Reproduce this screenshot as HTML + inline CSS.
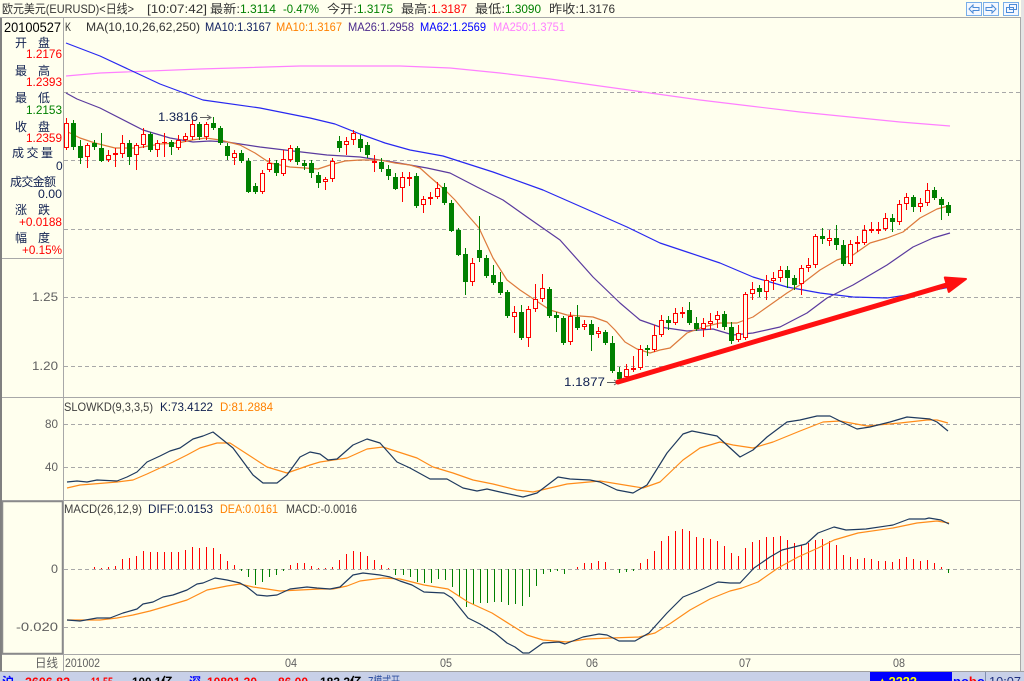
<!DOCTYPE html>
<html><head><meta charset="utf-8"><style>
html,body{margin:0;padding:0;background:#FFFFEE;}
svg{display:block;}
text{font-family:"Liberation Sans","WenQuanYi Zen Hei","Noto Sans CJK SC",sans-serif;font-size:12px;}
</style></head><body>
<svg width="1024" height="681" viewBox="0 0 1024 681" xmlns="http://www.w3.org/2000/svg">
<rect x="0" y="0" width="1024" height="681" fill="#FFFFEE"/>
<rect x="1021" y="0" width="3" height="672" fill="#E4E4E4"/>

<!-- title -->
<g fill="#333">
<text x="2" y="13" textLength="132" lengthAdjust="spacingAndGlyphs">欧元美元(EURUSD)&lt;日线&gt;</text>
<text x="147" y="13" textLength="60" lengthAdjust="spacingAndGlyphs">[10:07:42]</text>
<text x="210" y="13" textLength="30" lengthAdjust="spacingAndGlyphs">最新:</text>
<text x="327" y="13" textLength="30" lengthAdjust="spacingAndGlyphs">今开:</text>
<text x="401" y="13" textLength="30" lengthAdjust="spacingAndGlyphs">最高:</text>
<text x="475" y="13" textLength="30" lengthAdjust="spacingAndGlyphs">最低:</text>
<text x="549" y="13" textLength="30" lengthAdjust="spacingAndGlyphs">昨收:</text>
<text x="579" y="13" textLength="36" lengthAdjust="spacingAndGlyphs">1.3176</text>
</g>
<g fill="#008000">
<text x="240" y="13" textLength="36" lengthAdjust="spacingAndGlyphs">1.3114</text>
<text x="283" y="13" textLength="36" lengthAdjust="spacingAndGlyphs">-0.47%</text>
<text x="357" y="13" textLength="36" lengthAdjust="spacingAndGlyphs">1.3175</text>
<text x="505" y="13" textLength="36" lengthAdjust="spacingAndGlyphs">1.3090</text>
</g>
<text x="431" y="13" fill="#FF0000" textLength="36" lengthAdjust="spacingAndGlyphs">1.3187</text>

<!-- top-right buttons -->
<g fill="#F4F8FF" stroke="#78AEE8" stroke-width="1">
<rect x="966.5" y="2.5" width="15" height="13"/>
<rect x="983.5" y="2.5" width="15" height="13"/>
<rect x="1003.5" y="2.5" width="15" height="13"/>
</g>
<g fill="none" stroke="#4A8AD6" stroke-width="1">
<polygon points="969,9 973,5 973,7.5 979,7.5 979,10.5 973,10.5 973,13"/>
<polygon points="996,9 992,5 992,7.5 986,7.5 986,10.5 992,10.5 992,13"/>
<rect x="1006.5" y="7.5" width="7" height="5"/>
<rect x="1009.5" y="4.5" width="7" height="5"/>
</g>

<!-- frame lines -->
<g stroke="#A8A8A8" stroke-width="1" shape-rendering="crispEdges">
<line x1="0" y1="17.5" x2="1021" y2="17.5"/>
<line x1="0" y1="397.5" x2="1021" y2="397.5"/>
<line x1="0" y1="500.5" x2="1021" y2="500.5"/>
<line x1="0" y1="654.5" x2="1021" y2="654.5"/>
<line x1="63.5" y1="18" x2="63.5" y2="671"/>
<line x1="1020.5" y1="18" x2="1020.5" y2="671"/>
<line x1="0" y1="258.5" x2="63" y2="258.5"/>
</g>
<line x1="1" y1="18" x2="1" y2="672" stroke="#808080" stroke-width="2"/>
<rect x="2.5" y="501.5" width="60" height="152" fill="none" stroke="#8A8A8A" stroke-width="1.5"/>

<!-- grid -->
<g stroke="#A8A8A8" stroke-width="1" stroke-dasharray="4,3" shape-rendering="crispEdges">
<line x1="64" y1="92.5" x2="1020" y2="92.5"/>
<line x1="64" y1="160.5" x2="1020" y2="160.5"/>
<line x1="64" y1="229.5" x2="1020" y2="229.5"/>
<line x1="64" y1="297.5" x2="1020" y2="297.5"/>
<line x1="64" y1="366.5" x2="1020" y2="366.5"/>
<line x1="64" y1="424.5" x2="1020" y2="424.5"/>
<line x1="64" y1="467.5" x2="1020" y2="467.5"/>
<line x1="64" y1="569.5" x2="1020" y2="569.5"/>
<line x1="64" y1="627.5" x2="1020" y2="627.5"/>
</g>

<!-- left info panel -->
<text x="4" y="32" fill="#000" style="font-size:14px" textLength="57" lengthAdjust="spacingAndGlyphs">20100527</text>
<g fill="#102050">
<text x="15" y="47">开</text><text x="38" y="47">盘</text>
<text x="15" y="75">最</text><text x="38" y="75">高</text>
<text x="15" y="102">最</text><text x="38" y="102">低</text>
<text x="15" y="131">收</text><text x="38" y="131">盘</text>
<text x="12" y="157" textLength="41" lengthAdjust="spacing">成交量</text>
<text x="56" y="170">0</text>
<text x="10" y="186" textLength="46" lengthAdjust="spacing">成交金额</text>
<text x="38" y="198" textLength="24" lengthAdjust="spacingAndGlyphs">0.00</text>
<text x="15" y="214">涨</text><text x="38" y="214">跌</text>
<text x="15" y="242">幅</text><text x="38" y="242">度</text>
</g>
<g fill="#FF0000">
<text x="26" y="58" textLength="36" lengthAdjust="spacingAndGlyphs">1.2176</text>
<text x="26" y="86" textLength="36" lengthAdjust="spacingAndGlyphs">1.2393</text>
<text x="26" y="142" textLength="36" lengthAdjust="spacingAndGlyphs">1.2359</text>
<text x="19" y="226" textLength="43" lengthAdjust="spacingAndGlyphs">+0.0188</text>
<text x="22" y="254" textLength="40" lengthAdjust="spacingAndGlyphs">+0.15%</text>
</g>
<text x="26" y="114" fill="#008000" textLength="36" lengthAdjust="spacingAndGlyphs">1.2153</text>

<!-- axis labels -->
<g fill="#606060">
<text x="32" y="301" textLength="26" lengthAdjust="spacingAndGlyphs">1.25</text>
<text x="32" y="370" textLength="26" lengthAdjust="spacingAndGlyphs">1.20</text>
<text x="45" y="428" textLength="13" lengthAdjust="spacingAndGlyphs">80</text>
<text x="45" y="471" textLength="13" lengthAdjust="spacingAndGlyphs">40</text>
<text x="51" y="573" textLength="7" lengthAdjust="spacingAndGlyphs">0</text>
<text x="16" y="631" textLength="42" lengthAdjust="spacingAndGlyphs">-0.020</text>
<text x="35" y="667" textLength="23" lengthAdjust="spacingAndGlyphs">日线</text>
<text x="65" y="667" textLength="35" lengthAdjust="spacingAndGlyphs">201002</text>
<text x="285" y="667" textLength="12" lengthAdjust="spacingAndGlyphs">04</text>
<text x="440" y="667" textLength="12" lengthAdjust="spacingAndGlyphs">05</text>
<text x="586" y="667" textLength="12" lengthAdjust="spacingAndGlyphs">06</text>
<text x="739" y="667" textLength="12" lengthAdjust="spacingAndGlyphs">07</text>
<text x="893" y="667" textLength="12" lengthAdjust="spacingAndGlyphs">08</text>
</g>

<!-- main header -->
<text x="65" y="31" fill="#333" textLength="6" lengthAdjust="spacingAndGlyphs">K</text>
<text x="86" y="31" fill="#333" textLength="114" lengthAdjust="spacingAndGlyphs">MA(10,10,26,62,250)</text>
<text x="205" y="31" fill="#102060" textLength="66" lengthAdjust="spacingAndGlyphs">MA10:1.3167</text>
<text x="276" y="31" fill="#FF8000" textLength="66" lengthAdjust="spacingAndGlyphs">MA10:1.3167</text>
<text x="348" y="31" fill="#4B2A8C" textLength="66" lengthAdjust="spacingAndGlyphs">MA26:1.2958</text>
<text x="420" y="31" fill="#0000FF" textLength="66" lengthAdjust="spacingAndGlyphs">MA62:1.2569</text>
<text x="493" y="31" fill="#FF80FF" textLength="72" lengthAdjust="spacingAndGlyphs">MA250:1.3751</text>

<!-- KD header -->
<text x="64" y="411" fill="#404040" textLength="89" lengthAdjust="spacingAndGlyphs">SLOWKD(9,3,3,5)</text>
<text x="160" y="411" fill="#102050" textLength="53" lengthAdjust="spacingAndGlyphs">K:73.4122</text>
<text x="220" y="411" fill="#FF8000" textLength="53" lengthAdjust="spacingAndGlyphs">D:81.2884</text>

<!-- MACD header -->
<text x="64" y="513" fill="#404040" textLength="78" lengthAdjust="spacingAndGlyphs">MACD(26,12,9)</text>
<text x="148" y="513" fill="#102050" textLength="65" lengthAdjust="spacingAndGlyphs">DIFF:0.0153</text>
<text x="220" y="513" fill="#FF8000" textLength="58" lengthAdjust="spacingAndGlyphs">DEA:0.0161</text>
<text x="286" y="513" fill="#404040" textLength="71" lengthAdjust="spacingAndGlyphs">MACD:-0.0016</text>

<!-- moving averages -->
<g fill="none" stroke-width="1.2" stroke-linejoin="round">
<polyline stroke="#FF80FF" points="66,76 100,73 200,69 300,66 400,66 450,68 500,73 550,79 600,86 650,93 700,100 750,106 800,112 850,117 900,122 950,126"/>
<polyline stroke="#2828F0" points="66,43 100,56 130,70 160,84 203,100 260,108 310,118 335,124 360,134 385,143 410,150 443,156 493,172 543,190 593,212 627,227 660,243 687,252 720,263 753,277 787,287 820,293 853,297 887,298 920,293 950,287"/>
<polyline stroke="#5A3A9E" points="66,93 77,99 100,108 143,130 170,138 193,142 210,141 227,142 260,147 293,151 327,155 360,157 393,162 427,168 450,173 477,187 503,200 527,217 560,240 593,277 620,303 640,320 660,327 687,331 713,329 733,335 753,333 780,327 807,313 827,298 853,285 887,265 913,247 933,238 950,233"/>
<polyline stroke="#DD7A3C" points="66,131 80,138 95,143 115,148 137,148 160,144 178,143 192,140 206,138 220,140 240,145 255,153 270,163 290,167 305,168 318,169 330,165 345,161 360,160 380,160 395,163 410,165 420,168 430,177 445,190 455,200 465,212 479,228 493,258 507,280 520,290 535,300 550,310 567,315 593,317 607,322 615,330 625,342 637,349 650,353 660,350 670,348 687,333 703,327 720,323 737,323 753,317 770,305 787,293 803,283 820,270 837,260 853,255 870,243 887,238 903,232 920,218 937,209 948,206"/>
</g>

<!-- candles -->
<g shape-rendering="crispEdges">
<path stroke="#FF0000" stroke-width="1" fill="none" d="M66.5 118V150M87.5 143V168M108.5 150V162M115.5 148V167M122.5 135V158M136.5 143V170M143.5 128V148M157.5 140V157M164.5 133V157M178.5 135V150M185.5 133V142M192.5 120V140M206.5 122V140M234.5 150V165M262.5 170V194M269.5 158V172M283.5 150V176M290.5 145V162M325.5 177V190M332.5 158V182M346.5 137V155M353.5 130V145M374.5 155V172M402.5 172V202M409.5 172V186M423.5 196V213M430.5 192V205M437.5 182V199M472.5 258V286M514.5 306V333M528.5 306V347M535.5 284V312M542.5 274V302M570.5 312V345M584.5 320V330M598.5 327V338M626.5 364V380M633.5 356V372M640.5 345V370M654.5 325V352M661.5 315V337M675.5 308V325M682.5 307V318M703.5 318V337M710.5 313V330M717.5 311V328M738.5 325V342M745.5 292V340M752.5 282V300M766.5 275V300M773.5 272V290M780.5 266V282M801.5 265V295M808.5 258V272M815.5 234V268M829.5 230V246M850.5 240V266M857.5 236V252M864.5 225V245M871.5 222V233M878.5 222V234M885.5 213V231M899.5 200V225M906.5 193V210M920.5 198V212M927.5 183V206"/>
<path stroke="#FF0000" stroke-width="1" fill="#FFFFEE" d="M64.5 123.5h4v24h-4zM85.5 145.5h4v11h-4zM106.5 155.5h4v4h-4zM120.5 143.5h4v10h-4zM134.5 145.5h4v9h-4zM141.5 134.5h4v10h-4zM155.5 143.5h4v6h-4zM176.5 140.5h4v7h-4zM183.5 136.5h4v3h-4zM190.5 124.5h4v12h-4zM204.5 124.5h4v12h-4zM232.5 153.5h4v4h-4zM260.5 173.5h4v18h-4zM267.5 163.5h4v6h-4zM281.5 159.5h4v14h-4zM288.5 148.5h4v11h-4zM323.5 179.5h4v2h-4zM330.5 161.5h4v17h-4zM344.5 141.5h4v3h-4zM351.5 133.5h4v6h-4zM400.5 177.5h4v10h-4zM421.5 199.5h4v5h-4zM435.5 188.5h4v8h-4zM470.5 263.5h4v18h-4zM512.5 312.5h4v4h-4zM526.5 309.5h4v28h-4zM533.5 299.5h4v9h-4zM540.5 288.5h4v10h-4zM568.5 316.5h4v25h-4zM582.5 324.5h4v2h-4zM596.5 331.5h4v2h-4zM624.5 369.5h4v7h-4zM638.5 349.5h4v18h-4zM652.5 335.5h4v14h-4zM659.5 320.5h4v14h-4zM673.5 313.5h4v9h-4zM701.5 323.5h4v5h-4zM708.5 321.5h4v2h-4zM715.5 315.5h4v4h-4zM736.5 333.5h4v6h-4zM743.5 294.5h4v43h-4zM750.5 289.5h4v4h-4zM764.5 280.5h4v11h-4zM771.5 278.5h4v2h-4zM778.5 270.5h4v7h-4zM799.5 268.5h4v15h-4zM806.5 265.5h4v2h-4zM813.5 236.5h4v28h-4zM827.5 238.5h4v2h-4zM848.5 244.5h4v19h-4zM862.5 230.5h4v12h-4zM883.5 218.5h4v10h-4zM897.5 204.5h4v17h-4zM904.5 197.5h4v6h-4zM918.5 203.5h4v3h-4zM925.5 190.5h4v12h-4z"/>
<path fill="#FF0000" d="M113 153h5v2h-5zM162 142h5v1h-5zM372 161h5v2h-5zM407 177h5v2h-5zM428 197h5v2h-5zM631 368h5v2h-5zM680 312h5v2h-5zM855 242h5v2h-5zM869 229h5v2h-5zM876 229h5v2h-5z"/>
<path stroke="#008000" stroke-width="1" fill="none" d="M73.5 120V150M80.5 140V164M94.5 140V150M101.5 133V162M129.5 140V165M150.5 132V152M171.5 140V155M199.5 122V140M213.5 117V130M220.5 126V145M227.5 143V160M241.5 150V163M248.5 158V193M255.5 183V194M276.5 160V176M297.5 146V165M304.5 160V170M311.5 160V178M318.5 172V188M339.5 136V152M360.5 135V152M367.5 142V158M381.5 158V172M388.5 165V180M395.5 173V190M416.5 173V208M444.5 183V205M451.5 200V232M458.5 228V256M465.5 248V295M479.5 216V262M486.5 255V278M493.5 265V285M500.5 272V295M507.5 290V318M521.5 305V340M549.5 287V318M556.5 312V332M563.5 316V345M577.5 305V330M591.5 320V351M605.5 330V345M612.5 336V373M619.5 367V383M647.5 345V356M668.5 316V330M689.5 302V325M696.5 317V331M724.5 311V330M731.5 322V344M759.5 285V297M787.5 266V288M794.5 275V290M822.5 228V244M836.5 225V250M843.5 240V266M892.5 214V232M913.5 195V212M934.5 187V200M941.5 197V220M948.5 202V216"/>
<path fill="#008000" d="M71 123h5v24h-5zM78 146h5v12h-5zM92 143h5v4h-5zM99 148h5v13h-5zM127 143h5v14h-5zM148 134h5v16h-5zM169 142h5v5h-5zM197 124h5v13h-5zM211 123h5v5h-5zM218 128h5v15h-5zM225 146h5v10h-5zM239 153h5v8h-5zM246 161h5v31h-5zM253 186h5v6h-5zM274 163h5v10h-5zM295 148h5v14h-5zM302 163h5v3h-5zM309 163h5v10h-5zM316 175h5v8h-5zM337 141h5v7h-5zM358 139h5v9h-5zM365 145h5v10h-5zM379 162h5v7h-5zM386 169h5v7h-5zM393 177h5v12h-5zM414 176h5v30h-5zM442 187h5v16h-5zM449 203h5v28h-5zM456 230h5v25h-5zM463 254h5v28h-5zM477 250h5v8h-5zM484 258h5v18h-5zM491 275h5v8h-5zM498 282h5v11h-5zM505 292h5v24h-5zM519 312h5v26h-5zM547 289h5v27h-5zM554 315h5v3h-5zM561 318h5v25h-5zM575 317h5v11h-5zM589 324h5v11h-5zM603 332h5v11h-5zM610 343h5v28h-5zM617 372h5v7h-5zM645 348h5v2h-5zM666 320h5v3h-5zM687 310h5v13h-5zM694 323h5v6h-5zM722 314h5v13h-5zM729 327h5v14h-5zM757 288h5v4h-5zM785 270h5v8h-5zM792 278h5v7h-5zM820 236h5v3h-5zM834 238h5v7h-5zM841 245h5v19h-5zM890 218h5v4h-5zM911 197h5v10h-5zM932 190h5v8h-5zM939 199h5v6h-5zM946 205h5v8h-5z"/>
</g>

<!-- annotations -->
<text x="158" y="121" fill="#102050" textLength="40" lengthAdjust="spacingAndGlyphs">1.3816</text>
<path d="M200 117.5H210M207 115L211 117.5L207 120" stroke="#606060" fill="none" stroke-width="1"/>
<text x="564" y="386" fill="#102050" textLength="41" lengthAdjust="spacingAndGlyphs">1.1877</text>
<path d="M607 382.5H617M614 380L618 382.5L614 385" stroke="#606060" fill="none" stroke-width="1"/>

<!-- red arrow -->
<line x1="618" y1="382" x2="950" y2="284" stroke="#FF1010" stroke-width="5" stroke-linecap="round"/>
<polygon points="966,279 944.8,277.5 948.8,291.9" fill="#FF1010" stroke="#FF1010" stroke-width="2" stroke-linejoin="round"/>

<!-- KD lines -->
<g fill="none" stroke-width="1.2" stroke-linejoin="round">
<polyline stroke="#FF8C1A" points="67,488 80,485 93,484 117,482 133,480 147,474 173,462 187,455 200,448 217,443 230,443 247,454 267,467 287,473 310,465 320,462 347,458 367,449 383,447 417,458 433,467 453,473 473,480 493,484 517,490 533,492 567,484 600,481 643,488 660,482 683,460 700,448 720,442 733,445 753,448 773,442 800,431 823,422 840,421 867,426 900,423 927,420 937,420 948,423"/>
<polyline stroke="#1F3A5F" points="67,482 77,481 87,482 97,480 117,481 127,477 137,472 147,462 160,456 170,451 180,448 193,439 203,436 213,432 233,448 253,475 263,483 277,483 287,475 300,457 310,452 320,454 328,460 337,459 353,445 367,439 380,443 397,462 410,468 430,479 447,479 463,488 477,491 487,489 500,492 523,497 537,493 558,477 570,479 590,480 600,482 617,490 633,493 647,485 667,453 683,434 692,431 717,436 740,457 753,450 767,437 787,422 800,420 817,416 830,416 840,421 857,429 870,427 890,422 907,417 930,419 937,422 948,431"/>
</g>

<!-- MACD histogram -->
<g stroke-width="1" shape-rendering="crispEdges">
<path stroke="#FF0000" d="M94.5 569V567M101.5 569V568M108.5 569V567M115.5 569V566M122.5 569V559M129.5 569V558M136.5 569V556M143.5 569V551M150.5 569V552M157.5 569V552M164.5 569V552M171.5 569V552M178.5 569V552M185.5 569V550M192.5 569V547M199.5 569V548M206.5 569V547M213.5 569V548M220.5 569V554M227.5 569V561M234.5 569V565M290.5 569V565M297.5 569V563M304.5 569V563M311.5 569V566M318.5 569V568M325.5 569V568M332.5 569V567M339.5 569V560M346.5 569V554M353.5 569V551M360.5 569V552M367.5 569V556M374.5 569V560M381.5 569V565M388.5 569V568M577.5 569V567M584.5 569V563M591.5 569V563M598.5 569V561M605.5 569V562M640.5 569V563M647.5 569V559M654.5 569V551M661.5 569V541M668.5 569V536M675.5 569V531M682.5 569V529M689.5 569V531M696.5 569V537M703.5 569V538M710.5 569V539M717.5 569V541M724.5 569V546M731.5 569V553M738.5 569V556M745.5 569V548M752.5 569V542M759.5 569V540M766.5 569V537M773.5 569V537M780.5 569V536M787.5 569V540M794.5 569V543M801.5 569V545M808.5 569V543M815.5 569V540M822.5 569V539M829.5 569V541M836.5 569V545M843.5 569V555M850.5 569V557M857.5 569V559M864.5 569V558M871.5 569V559M878.5 569V561M885.5 569V561M892.5 569V562M899.5 569V559M906.5 569V557M913.5 569V559M920.5 569V561M927.5 569V560M934.5 569V563M941.5 569V567"/>
<path stroke="#008000" d="M241.5 569V571M248.5 569V577M255.5 569V585M262.5 569V582M269.5 569V577M276.5 569V575M283.5 569V571M395.5 569V575M403.5 569V575M410.5 569V577M417.5 569V582M424.5 569V583M431.5 569V583M438.5 569V579M445.5 569V580M452.5 569V587M459.5 569V597M466.5 569V607M473.5 569V604M480.5 569V603M487.5 569V603M494.5 569V602M501.5 569V602M508.5 569V605M515.5 569V604M522.5 569V606M529.5 569V597M536.5 569V586M543.5 569V574M550.5 569V572M557.5 569V571M564.5 569V574M619.5 569V573M626.5 569V572M633.5 569V571M948.5 569V573"/>
</g>

<!-- MACD lines -->
<g fill="none" stroke-width="1.2" stroke-linejoin="round">
<polyline stroke="#FF8C1A" points="67,620 100,620 117,618 133,615 150,611 167,606 187,600 207,590 227,586 240,584 253,587 267,589 280,591 300,590 320,589 333,589 347,586 360,581 383,578 400,579 424,585 448,589 468,602 492,613 511,625 527,635 543,640 567,642 587,639 611,638 639,637 655,633 671,623 690,610 710,599 730,591 742,588 758,582 778,568 798,557 818,548 834,540 858,533 893,528 917,523 937,521 949,523"/>
<polyline stroke="#1F3A5F" points="67,620 80,621 97,618 110,618 123,613 137,609 143,604 153,602 163,597 173,595 187,590 197,584 203,583 215,578 227,580 240,583 247,587 257,595 267,596 277,595 290,589 307,587 317,588 330,589 340,587 353,575 363,573 380,575 390,577 400,581 412,585 424,592 444,593 452,598 468,618 480,624 495,633 507,643 515,647 523,653 529,653 543,643 559,642 565,644 583,637 599,634 607,635 619,641 635,641 649,633 667,613 683,597 698,591 718,582 730,583 740,583 754,568 770,557 782,550 806,544 818,533 834,527 846,530 866,529 893,525 909,519 925,519 929,518 941,520 949,524"/>
</g>

<!-- status bar -->
<rect x="0" y="671" width="1024" height="10" fill="#C8D0E8"/>
<line x1="0" y1="671.5" x2="1024" y2="671.5" stroke="#A0A0A0" stroke-width="1"/>
<g style="font-size:13px;font-weight:bold">
<text x="2" y="686" fill="#0000FF">沪</text>
<text x="25" y="686" fill="#FF0000" textLength="45" lengthAdjust="spacingAndGlyphs">2606.82</text>
<text x="91" y="686" fill="#FF0000" textLength="22" lengthAdjust="spacingAndGlyphs">11.55</text>
<text x="132" y="686" fill="#000" textLength="41" lengthAdjust="spacingAndGlyphs">100.1亿</text>
<text x="189" y="686" fill="#0000FF">深</text>
<text x="207" y="686" fill="#FF0000" textLength="50" lengthAdjust="spacingAndGlyphs">10801.30</text>
<text x="278" y="686" fill="#FF0000" textLength="30" lengthAdjust="spacingAndGlyphs">86.00</text>
<text x="320" y="686" fill="#000" textLength="42" lengthAdjust="spacingAndGlyphs">183.2亿</text>
</g>
<text x="368" y="686" fill="#3050A0" style="font-size:13px" textLength="32" lengthAdjust="spacingAndGlyphs">Z模式开</text>
<rect x="870" y="672" width="82" height="9" fill="#0000FF"/>
<text x="876" y="686" fill="#FFFF00" style="font-size:13px;font-weight:bold" textLength="41" lengthAdjust="spacingAndGlyphs">▲2222</text>
<text x="953" y="686" style="font-size:13px;font-weight:bold"><tspan fill="#0000FF">no</tspan><tspan fill="#FF0000">b</tspan><tspan fill="#0000FF">o</tspan></text>
<line x1="985.5" y1="672" x2="985.5" y2="681" stroke="#8090B0" stroke-width="1"/>
<text x="989" y="686" fill="#203080" style="font-size:13px" textLength="32" lengthAdjust="spacingAndGlyphs">10:07</text>
</svg>
</body></html>
